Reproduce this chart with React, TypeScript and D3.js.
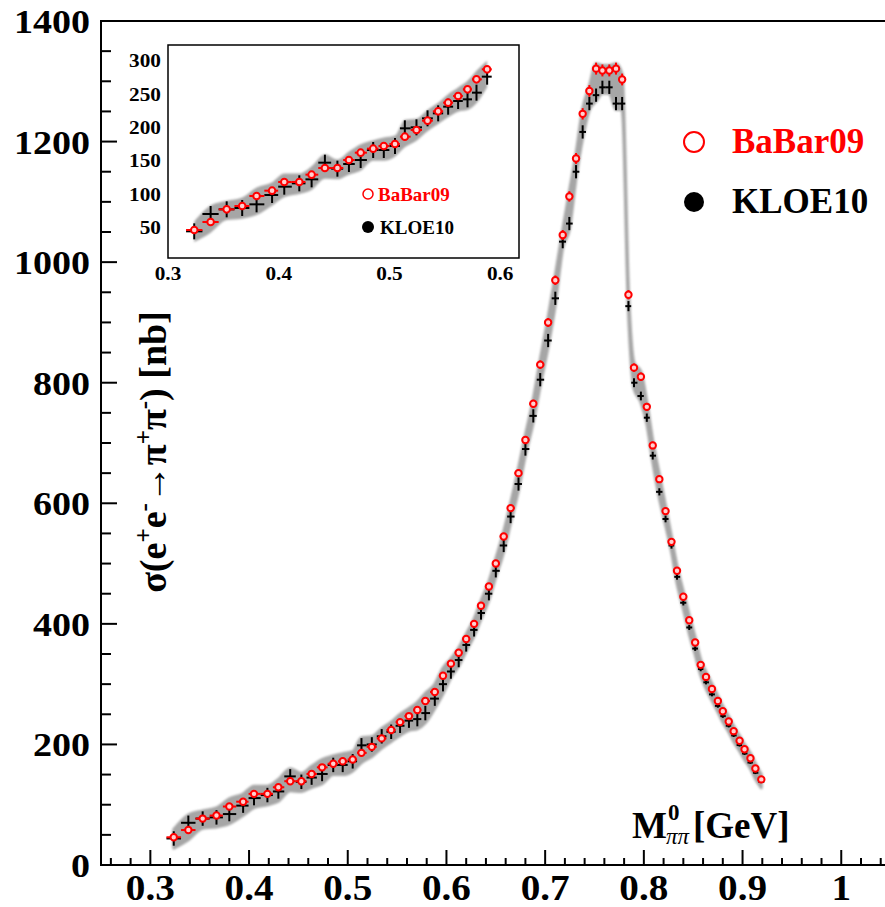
import React from "react";
import * as d3 from "d3";

// Invariant mass bins (GeV)
const mass = [
  0.3237, 0.3385, 0.353, 0.367, 0.38, 0.394, 0.405, 0.4186, 0.4297, 0.4417,
  0.453, 0.4634, 0.474, 0.4853, 0.4949, 0.505, 0.5139, 0.5244, 0.5344, 0.544,
  0.553, 0.562, 0.5705, 0.5786, 0.5882, 0.5965, 0.6045, 0.6124,
  0.62, 0.628, 0.635, 0.643, 0.65, 0.658, 0.665, 0.673, 0.68, 0.688, 0.695,
  0.703, 0.7103, 0.7178, 0.7245, 0.7313, 0.738, 0.7448, 0.7516, 0.758, 0.765,
  0.7718, 0.778,
  0.7844, 0.79, 0.797, 0.803, 0.809, 0.8157, 0.822, 0.828, 0.8336, 0.84,
  0.846, 0.852, 0.8576, 0.863, 0.869, 0.875, 0.88, 0.886, 0.891, 0.897,
  0.902, 0.908, 0.913, 0.919,
];

// BaBar09 cross section (nb)
const babar09 = [
  46, 58, 77, 82, 97, 105, 118, 118, 129, 139,
  139, 151, 162, 168, 172, 175, 186, 196, 210, 224,
  237, 247, 257, 272, 287, 314, 334, 352,
  375, 400, 430, 462, 500, 545, 592, 650, 705, 765, 830,
  900, 970, 1045, 1109, 1172, 1246, 1284, 1321, 1318, 1318,
  1321, 1303,
  946, 825, 810, 760, 696, 640, 587, 536, 488, 445,
  406, 369, 332, 312, 292, 272, 255, 238, 222, 206,
  192, 177, 160, 142,
];

// KLOE10 cross section (nb)
const kloe10 = [
  44, 70, 77, 79, 84.5, 98.5, 111, 116, 122, 147,
  138, 145, 151, 166, 166, 172, 198.5, 200, 213.5, 221,
  231, 239.5, 242, 252, 276, 300, 321, 340,
  365, 390, 418, 450, 488, 530, 578, 632, 690, 745, 805,
  870, 940, 1034, 1064, 1150, 1216, 1263, 1277, 1290, 1290,
  1263, 1263,
  927, 800, 778, 742, 679, 619, 574, 530, 478, 435,
  394, 359, 325, 303, 283, 264, 247, 231, 215, 199,
  185, 170, 153, 138,
];

const mainYTicks = [0, 200, 400, 600, 800, 1000, 1200, 1400];
const mainXTicks = [0.3, 0.4, 0.5, 0.6, 0.7, 0.8, 0.9, 1];
const insetYTicks = [50, 100, 150, 200, 250, 300];
const insetXTicks = [0.3, 0.4, 0.5, 0.6];

const FONT = "'Liberation Serif', 'Times New Roman', serif";
const RED = "#ff0000";
const BAND = "#a6a6a6";
const DIGIT_SX = 1.12;

const n = mass.length;
const kloeErr = (i: number) =>
  mass[i] < 0.62 ? 12 : mass[i] < 0.781 ? 11 : 0.008 * kloe10[i] + 1;
const babarErr = (i: number) => 0.006 * babar09[i] + 2;
const xErr = (i: number): [number, number] => {
  const lo = i > 0 ? mass[i] - mass[i - 1] : mass[i + 1] - mass[i];
  const hi = i < n - 1 ? mass[i + 1] - mass[i] : lo;
  return [lo / 2, hi / 2];
};
const bandMargin = (i: number) => (mass[i] < 0.6 ? Math.max(kloeErr(i), 16) : 10);
const bandLow = (i: number) => Math.min(babar09[i], kloe10[i]) - bandMargin(i);
const bandHigh = (i: number) => Math.max(babar09[i], kloe10[i]) + bandMargin(i) * 0.8;

type Sc = d3.ScaleLinear<number, number>;

function Num(props: {
  x: number;
  y: number;
  size: number;
  anchor: "start" | "middle" | "end";
  children: React.ReactNode;
  fill?: string;
}) {
  return (
    <text
      transform={`translate(${props.x},${props.y}) scale(${DIGIT_SX},1)`}
      textAnchor={props.anchor}
      fontSize={props.size}
      fontWeight="bold"
      fontFamily={FONT}
      fill={props.fill ?? "#000"}
    >
      {props.children}
    </text>
  );
}

function Points(props: {
  x: Sc;
  y: Sc;
  idx: number[];
  r: number;
  sw: number;
}) {
  const { x, y, idx, r, sw } = props;
  return (
    <g>
      {idx.map((i) => {
        const [lo, hi] = xErr(i);
        const e = kloeErr(i);
        return (
          <g key={"k" + i} stroke="#000" strokeWidth={sw}>
            <line x1={x(mass[i] - lo)} x2={x(mass[i] + hi)} y1={y(kloe10[i])} y2={y(kloe10[i])} />
            <line x1={x(mass[i])} x2={x(mass[i])} y1={y(kloe10[i] - e)} y2={y(kloe10[i] + e)} />
          </g>
        );
      })}
      {idx.map((i) => {
        const [lo, hi] = xErr(i);
        const e = babarErr(i);
        return (
          <g key={"b" + i} stroke={RED} strokeWidth={sw} fill="none">
            <line x1={x(mass[i] - lo)} x2={x(mass[i] + hi)} y1={y(babar09[i])} y2={y(babar09[i])} />
            <line x1={x(mass[i])} x2={x(mass[i])} y1={y(babar09[i] - e)} y2={y(babar09[i] + e)} />
            <circle cx={x(mass[i])} cy={y(babar09[i])} r={r} fill="#ffd0d0" />
          </g>
        );
      })}
    </g>
  );
}

export default function App() {
  // main frame
  const x = d3.scaleLinear().domain([0.25, 1.05]).range([101, 890.6]);
  const y = d3.scaleLinear().domain([0, 1400]).range([865, 21]);
  // inset frame
  const ix = d3.scaleLinear().domain([0.3, 0.617]).range([168, 519]);
  const iy = d3.scaleLinear().domain([4, 323.5]).range([258, 45]);

  const all = d3.range(n);
  const low = all.filter((i) => mass[i] < 0.59);

  const band = (xs: Sc, ys: Sc) =>
    d3
      .area<number>()
      .x((i) => xs(mass[i]))
      .y0((i) => ys(bandLow(i)))
      .y1((i) => ys(bandHigh(i)))
      .curve(d3.curveMonotoneX);

  const minorX = d3.range(0.26, 1.041, 0.02);
  const minorY = d3.range(50, 1400, 50);

  return (
    <svg
      width={885}
      height={907}
      style={{ position: "absolute", left: 0, top: 0, background: "#fff" }}
    >
      <defs>
        <filter id="soft" x="-5%" y="-5%" width="110%" height="110%">
          <feGaussianBlur stdDeviation={1} />
        </filter>
        <clipPath id="insetClip">
          <rect x={168} y={45} width={351} height={213} />
        </clipPath>
      </defs>
      <rect x={0} y={0} width={885} height={907} fill="#fff" />

      {/* main band and points */}
      <path
        d={band(x, y)(all) ?? ""}
        fill={BAND}
        stroke={BAND}
        strokeWidth={3}
        strokeLinejoin="round"
        filter="url(#soft)"
      />
      <Points x={x} y={y} idx={all} r={3.2} sw={2} />

      {/* main axes frame */}
      <rect x={101} y={21} width={790} height={844} fill="none" stroke="#000" strokeWidth={2} />
      {minorX.map((v) => {
        const major = Math.abs(Math.round(v * 10) / 10 - v) < 1e-6;
        return (
          <line key={"mx" + v} x1={x(v)} x2={x(v)} y1={865} y2={865 - (major ? 15 : 7)} stroke="#000" strokeWidth={2} />
        );
      })}
      {minorY.map((v) => {
        const major = v % 200 === 0;
        return (
          <line key={"my" + v} x1={101} x2={101 + (major ? 16 : 10)} y1={y(v)} y2={y(v)} stroke="#000" strokeWidth={2} />
        );
      })}
      {mainYTicks.map((v) => (
        <Num key={"yl" + v} x={90} y={y(v) + 12} size={34} anchor="end">
          {String(v)}
        </Num>
      ))}
      {mainXTicks.map((v) => (
        <Num key={"xl" + v} x={x(v)} y={900} size={35} anchor="middle">
          {String(v)}
        </Num>
      ))}

      {/* axis titles */}
      <text
        transform="translate(166,452) rotate(-90)"
        textAnchor="middle"
        fontSize={38}
        fontWeight="bold"
        fontFamily={FONT}
        fill="#000"
      >
        σ(e<tspan dy={-14} fontSize={25}>+</tspan>
        <tspan dy={14}>e</tspan>
        <tspan dy={-14} fontSize={25}>-</tspan>
        <tspan dy={14}>→π</tspan>
        <tspan dy={-14} fontSize={25}>+</tspan>
        <tspan dy={14}>π</tspan>
        <tspan dy={-14} fontSize={25}>-</tspan>
        <tspan dy={14}>) [nb]</tspan>
      </text>
      <g fontFamily={FONT} fill="#000" fontWeight="bold">
        <text x={632} y={838} fontSize={37}>M</text>
        <text x={668} y={820} fontSize={23}>0</text>
        <text x={666} y={844} fontSize={23} fontStyle="italic" fontWeight="normal">ππ</text>
        <text x={693} y={838} fontSize={37}>[GeV]</text>
      </g>

      {/* main legend */}
      <circle cx={694} cy={142} r={10} fill="none" stroke={RED} strokeWidth={2} />
      <text x={732} y={153} fontSize={35} fontWeight="bold" fontFamily={FONT} fill={RED}>BaBar09</text>
      <circle cx={694} cy={202} r={10} fill="#000" />
      <text x={732} y={213} fontSize={35} fontWeight="bold" fontFamily={FONT} fill="#000">KLOE10</text>

      {/* inset */}
      <rect x={168} y={45} width={351} height={213} fill="#fff" />
      <g clipPath="url(#insetClip)">
        <path d={band(ix, iy)(low) ?? ""} fill={BAND} filter="url(#soft)" />
        <Points x={ix} y={iy} idx={low} r={3.3} sw={2} />
      </g>
      <rect x={168} y={45} width={351} height={213} fill="none" stroke="#000" strokeWidth={1.5} />
      {insetYTicks.map((v) => (
        <Num key={"iyl" + v} x={161} y={iy(v) + 6.5} size={19} anchor="end">
          {String(v)}
        </Num>
      ))}
      {insetXTicks.map((v) => (
        <Num key={"ixl" + v} x={ix(v)} y={280} size={19} anchor="middle">
          {String(v)}
        </Num>
      ))}
      <circle cx={368} cy={194} r={5} fill="none" stroke={RED} strokeWidth={1.5} />
      <text x={378} y={201} fontSize={19} fontWeight="bold" fontFamily={FONT} fill={RED}>BaBar09</text>
      <circle cx={368} cy={227} r={6} fill="#000" />
      <text x={380} y={234} fontSize={19} fontWeight="bold" fontFamily={FONT} fill="#000">KLOE10</text>
    </svg>
  );
}
